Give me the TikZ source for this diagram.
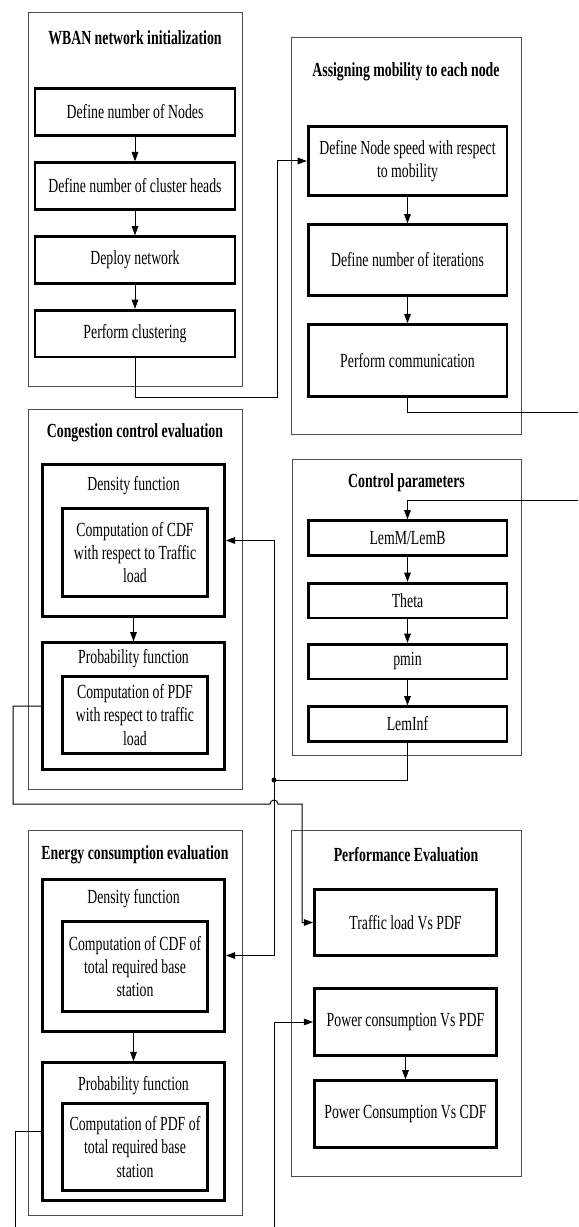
\documentclass[tikz,border=0pt]{standalone}
\usepackage{fontspec}
\setmainfont{Liberation Serif}[FakeStretch=0.69]
\usetikzlibrary{arrows.meta}

\tikzset{every picture/.style={line width=0.75pt}}
\tikzset{
  grpbox/.style={draw=black!70, line width=0.75pt, inner sep=0pt},
  stepbox/.style={draw, line width=2pt, align=center, inner sep=0pt},
  hdr/.style={font=\fontsize{15}{17.5}\selectfont\bfseries, inner sep=0.75pt},
  lbl/.style={inner sep=0.75pt},
  arr/.style={-{Triangle[length=7pt,width=5pt]}},
}

\begin{document}
\begin{tikzpicture}[x=0.75pt,y=0.75pt,yscale=-1,xscale=1,font=\fontsize{15}{17.5}\selectfont]
\useasboundingbox (0,0) rectangle (578,1227);

% WBAN network initialization
\node[grpbox, minimum width=160.5pt, minimum height=279.75pt] (wban) at (135,199.5) {};
\node[hdr] (wbanT) at (135,38) {WBAN network initialization};
\node[stepbox, minimum width=150pt, minimum height=35pt] (nodes) at (135,112) {Define number of Nodes};
\node[stepbox, minimum width=150pt, minimum height=35pt] (heads) at (135,186) {Define number of cluster heads};
\node[stepbox, minimum width=150pt, minimum height=35pt] (deploy) at (135,260) {Deploy network};
\node[stepbox, minimum width=150pt, minimum height=35pt] (cluster) at (135,333.5) {Perform clustering};

% Assigning mobility to each node
\node[grpbox, minimum width=172.5pt, minimum height=297pt] (assign) at (406,236) {};
\node[hdr] (assignT) at (406,72) {Assigning mobility to each node};
\node[stepbox, minimum width=149pt, minimum height=52pt] (speed) at (407.5,161) {Define Node speed with respect\\to mobility};
\node[stepbox, minimum width=149pt, minimum height=53pt] (iter) at (407.5,260) {Define number of iterations};
\node[stepbox, minimum width=149pt, minimum height=54pt] (comm) at (407.5,360.5) {Perform communication};

% Control parameters
\node[grpbox, minimum width=171.75pt, minimum height=222pt] (control) at (406.5,607) {};
\node[hdr] (controlT) at (406.5,483) {Control parameters};
\node[stepbox, minimum width=149pt, minimum height=26pt] (lemm) at (407.5,538) {LemM/LemB};
\node[stepbox, minimum width=149pt, minimum height=26pt] (theta) at (407.5,600.5) {Theta};
\node[stepbox, minimum width=149pt, minimum height=26pt] (pmin) at (407.5,661.5) {pmin};
\node[stepbox, minimum width=149pt, minimum height=26pt] (leminf) at (407.5,724) {LemInf};

% Congestion control evaluation
\node[grpbox, minimum width=160.5pt, minimum height=285pt] (congest) at (135,599) {};
\node[hdr] (congestT) at (135,433) {Congestion control evaluation};
\node[stepbox, minimum width=136.5pt, minimum height=114pt] (cdens) at (133.5,540.5) {};
\node[lbl] (cdensT) at (133.5,486) {Density function};
\node[stepbox, minimum width=109pt, minimum height=66pt] (ccdf) at (135,552.5) {Computation of CDF\\with respect to Traffic\\load};
\node[stepbox, minimum width=136.5pt, minimum height=95pt] (cprob) at (133.5,706) {};
\node[lbl] (cprobT) at (133.5,659) {Probability function};
\node[stepbox, minimum width=109pt, minimum height=58pt] (cpdf) at (135,715) {Computation of PDF\\with respect to traffic\\load};

% Energy consumption evaluation
\node[grpbox, minimum width=160.5pt, minimum height=288.75pt] (energy) at (135,1022.5) {};
\node[hdr] (energyT) at (135,855) {Energy consumption evaluation};
\node[stepbox, minimum width=136.5pt, minimum height=114pt] (edens) at (133.5,955.5) {};
\node[lbl] (edensT) at (133.5,899) {Density function};
\node[stepbox, minimum width=109pt, minimum height=67.5pt] (ecdf) at (135,966.5) {Computation of CDF of\\total required base\\station};
\node[stepbox, minimum width=136.5pt, minimum height=103.5pt] (eprob) at (133.5,1131.5) {};
\node[lbl] (eprobT) at (133.5,1086) {Probability function};
\node[stepbox, minimum width=109pt, minimum height=65pt] (epdf) at (135,1147) {Computation of PDF of\\total required base\\station};

% Performance Evaluation
\node[grpbox, minimum width=172.5pt, minimum height=259.5pt] (perf) at (406,1003) {};
\node[hdr] (perfT) at (406,855) {Performance Evaluation};
\node[stepbox, minimum width=136.5pt, minimum height=49.5pt] (traffic) at (405.5,922.5) {Traffic load Vs PDF};
\node[stepbox, minimum width=136.5pt, minimum height=50pt] (powpdf) at (405.5,1022) {Power consumption Vs PDF};
\node[stepbox, minimum width=136.5pt, minimum height=50pt] (powcdf) at (405.5,1114) {Power Consumption Vs CDF};

% arrows inside the groups
\foreach \a/\b in {nodes/heads, heads/deploy, deploy/cluster, speed/iter, iter/comm,
  lemm/theta, theta/pmin, pmin/leminf, cdens/cprob, edens/eprob, powpdf/powcdf}
  \draw[arr] (\a) -- (\b);

% connectors between the groups
\coordinate (bendA) at (277,397);
\draw[arr] (cluster.south) |- (bendA) |- (speed.west);
\coordinate (outA) at (578,412);
\draw (comm.south) |- (outA);
\coordinate (inA) at (578,500);
\draw[arr] (inA) -| (lemm.north);

\coordinate (dot) at (274,780);
\draw (leminf.south) |- (dot);
\fill (dot) circle[radius=2.5];
\draw[arr] (dot) |- (cdens.east);
\draw[arr] (dot) |- (edens.east);

\coordinate (bendB) at (13,804);
\coordinate (hopB) at (270,804);
\coordinate (bendC) at (302,804);
\draw[arr] (cprob.west) -| (bendB) -- (hopB) arc[start angle=180, end angle=360, radius=4] -- (bendC) |- (traffic.west);

\coordinate (outB) at (15,1227);
\draw (eprob.west) -| (outB);
\coordinate (inB) at (274,1227);
\draw[arr] (inB) |- (powpdf.west);
\end{tikzpicture}
\end{document}
